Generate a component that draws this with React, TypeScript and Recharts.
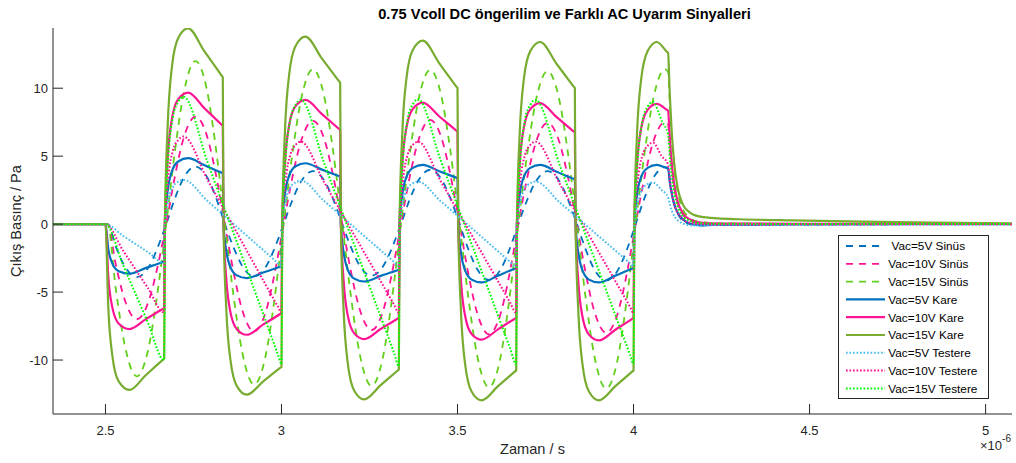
import React from 'react';
import { LineChart, Line, XAxis, YAxis } from 'recharts';

type P = [number, number];

// ---- data (time in µs ×1e-6, pressure in Pa) ----
const sinus5: P[] = [
  [2.351,0],[2.506,0],
  [2.53,-1.7],[2.555,-3.11],[2.589,-3.9],[2.62,-3.27],[2.645,-1.94],[2.66,-0.92],
  [2.6727,0],[2.6967,1.85],[2.7217,3.38],[2.7557,4.24],[2.7867,3.55],[2.8117,2.11],[2.8267,1.0],
  [2.8393,0],[2.8633,-1.68],[2.8883,-3.07],[2.9223,-3.85],[2.9533,-3.23],[2.9783,-1.92],[2.9933,-0.91],
  [3.006,0],[3.03,1.7],[3.055,3.11],[3.089,3.9],[3.12,3.27],[3.145,1.94],[3.16,0.92],
  [3.1727,0],[3.1967,-1.66],[3.2217,-3.03],[3.2557,-3.8],[3.2867,-3.18],[3.3117,-1.89],[3.3267,-0.9],
  [3.3393,0],[3.3633,1.75],[3.3883,3.19],[3.4223,4.0],[3.4533,3.35],[3.4783,1.99],[3.4933,0.95],
  [3.506,0],[3.53,-1.79],[3.555,-3.27],[3.589,-4.1],[3.62,-3.44],[3.645,-2.04],[3.66,-0.97],
  [3.6727,0],[3.6967,1.7],[3.7217,3.11],[3.7557,3.9],[3.7867,3.27],[3.8117,1.94],[3.8267,0.92],
  [3.8393,0],[3.8633,-1.81],[3.8883,-3.31],[3.9223,-4.15],[3.9533,-3.48],[3.9783,-2.07],[3.9933,-0.98],
  [4.006,0],[4.03,1.84],[4.055,3.35],[4.089,4.2],[4.098,4.12],
  [4.104,3.0],[4.11,2.1],[4.117,1.35],[4.127,0.7],[4.14,0.25],[4.16,0.0],[4.19,-0.1],[4.25,-0.05],[4.5,-0.02],[5.075,0],
];
const sinus10: P[] = [
  [2.351,0],[2.506,0],
  [2.53,-3.06],[2.555,-5.58],[2.589,-7.0],[2.62,-5.87],[2.645,-3.49],[2.66,-1.66],
  [2.6727,0],[2.6967,3.45],[2.7217,6.3],[2.7557,7.9],[2.7867,6.62],[2.8117,3.93],[2.8267,1.87],
  [2.8393,0],[2.8633,-3.45],[2.8883,-6.3],[2.9223,-7.9],[2.9533,-6.62],[2.9783,-3.93],[2.9933,-1.87],
  [3.006,0],[3.03,3.32],[3.055,6.06],[3.089,7.6],[3.12,6.37],[3.145,3.78],[3.16,1.8],
  [3.1727,0],[3.1967,-3.41],[3.2217,-6.22],[3.2557,-7.8],[3.2867,-6.54],[3.3117,-3.88],[3.3267,-1.85],
  [3.3393,0],[3.3633,3.35],[3.3883,6.11],[3.4223,7.67],[3.4533,6.43],[3.4783,3.82],[3.4933,1.82],
  [3.506,0],[3.53,-3.54],[3.555,-6.46],[3.589,-8.1],[3.62,-6.79],[3.645,-4.03],[3.66,-1.92],
  [3.6727,0],[3.6967,3.26],[3.7217,5.94],[3.7557,7.45],[3.7867,6.24],[3.8117,3.71],[3.8267,1.77],
  [3.8393,0],[3.8633,-3.5],[3.8883,-6.38],[3.9223,-8.0],[3.9533,-6.7],[3.9783,-3.98],[3.9933,-1.9],
  [4.006,0],[4.03,3.28],[4.055,5.98],[4.089,7.5],[4.098,7.35],
  [4.104,5.4],[4.11,3.8],[4.117,2.5],[4.127,1.4],[4.14,0.7],[4.16,0.25],[4.19,0.08],[4.25,0.02],[5.075,0],
];
const sinus15: P[] = [
  [2.351,0],[2.506,0],
  [2.53,-4.89],[2.555,-8.93],[2.589,-11.2],[2.62,-9.39],[2.645,-5.58],[2.66,-2.65],
  [2.6727,0],[2.6967,5.24],[2.7217,9.56],[2.7557,12.0],[2.7867,10.06],[2.8117,5.98],[2.8267,2.84],
  [2.8393,0],[2.8633,-5.16],[2.8883,-9.4],[2.9223,-11.8],[2.9533,-9.89],[2.9783,-5.88],[2.9933,-2.8],
  [3.006,0],[3.03,4.98],[3.055,9.09],[3.089,11.4],[3.12,9.55],[3.145,5.68],[3.16,2.7],
  [3.1727,0],[3.1967,-5.2],[3.2217,-9.48],[3.2557,-11.9],[3.2867,-9.97],[3.3117,-5.93],[3.3267,-2.82],
  [3.3393,0],[3.3633,4.96],[3.3883,9.05],[3.4223,11.35],[3.4533,9.51],[3.4783,5.65],[3.4933,2.69],
  [3.506,0],[3.53,-5.24],[3.555,-9.56],[3.589,-12.0],[3.62,-10.06],[3.645,-5.98],[3.66,-2.84],
  [3.6727,0],[3.6967,4.92],[3.7217,8.97],[3.7557,11.25],[3.7867,9.43],[3.8117,5.6],[3.8267,2.67],
  [3.8393,0],[3.8633,-5.29],[3.8883,-9.64],[3.9223,-12.1],[3.9533,-10.14],[3.9783,-6.03],[3.9933,-2.87],
  [4.006,0],[4.03,4.98],[4.055,9.09],[4.089,11.4],[4.098,11.2],
  [4.104,8.3],[4.11,5.8],[4.117,3.8],[4.127,2.2],[4.14,1.1],[4.16,0.45],[4.19,0.15],[4.25,0.05],[4.5,0.02],[5.075,0.01],
];
const kare5: P[] = [
  [2.351,0],[2.5,0],
  [2.508,-1.83],[2.52,-2.92],[2.538,-3.47],[2.568,-3.65],[2.615,-3.22],[2.6627,-2.79],[2.6667,-2.75],
  [2.6687,0],[2.6767,2.43],[2.6887,3.88],[2.7067,4.61],[2.7347,4.85],[2.7817,4.33],[2.8293,3.79],[2.8333,3.75],
  [2.8353,0],[2.8433,-1.99],[2.8553,-3.18],[2.8733,-3.77],[2.9013,-3.97],[2.9483,-3.56],[2.996,-3.14],[3.0,-3.1],
  [3.002,0],[3.01,2.24],[3.022,3.58],[3.04,4.26],[3.068,4.48],[3.115,4.01],[3.1627,3.54],[3.1667,3.5],
  [3.1687,0],[3.1767,-2.11],[3.1887,-3.38],[3.2067,-4.01],[3.2347,-4.22],[3.2817,-3.81],[3.3293,-3.4],[3.3333,-3.36],
  [3.3353,0],[3.3433,2.18],[3.3553,3.49],[3.3733,4.14],[3.4013,4.36],[3.4483,3.89],[3.496,3.42],[3.5,3.38],
  [3.502,0],[3.51,-2.15],[3.522,-3.43],[3.54,-4.08],[3.568,-4.29],[3.615,-3.79],[3.6627,-3.28],[3.6667,-3.24],
  [3.6687,0],[3.6767,2.18],[3.6887,3.49],[3.7067,4.14],[3.7347,4.36],[3.7817,3.86],[3.8293,3.34],[3.8333,3.3],
  [3.8353,0],[3.8433,-2.15],[3.8553,-3.43],[3.8733,-4.08],[3.9013,-4.29],[3.9483,-3.79],[3.996,-3.28],[4.0,-3.24],
  [4.002,0],[4.01,2.18],[4.022,3.49],[4.04,4.14],[4.066,4.36],[4.094,4.13],[4.098,4.1],
  [4.103,3.1],[4.108,2.3],[4.115,1.5],[4.125,0.85],[4.14,0.35],[4.16,0.05],[4.19,-0.08],[4.25,-0.05],[4.5,-0.02],[5.075,0],
];
const kare10: P[] = [
  [2.351,0],[2.5,0],
  [2.508,-3.86],[2.52,-6.18],[2.538,-7.33],[2.568,-7.72],[2.615,-6.99],[2.6627,-6.24],[2.6667,-6.18],
  [2.6687,0],[2.6767,4.84],[2.6887,7.74],[2.7067,9.2],[2.7347,9.68],[2.7817,8.51],[2.8293,7.33],[2.8333,7.23],
  [2.8353,0],[2.8433,-4.07],[2.8553,-6.51],[2.8733,-7.73],[2.9013,-8.14],[2.9483,-7.38],[2.996,-6.61],[3.0,-6.54],
  [3.002,0],[3.01,4.57],[3.022,7.31],[3.04,8.68],[3.068,9.14],[3.115,8.09],[3.1627,7.02],[3.1667,6.93],
  [3.1687,0],[3.1767,-4.23],[3.1887,-6.77],[3.2067,-8.04],[3.2347,-8.46],[3.2817,-7.72],[3.3293,-6.96],[3.3333,-6.9],
  [3.3353,0],[3.3433,4.47],[3.3553,7.15],[3.3733,8.49],[3.4013,8.94],[3.4483,7.92],[3.496,6.89],[3.5,6.8],
  [3.502,0],[3.51,-4.25],[3.522,-6.8],[3.54,-8.08],[3.568,-8.5],[3.615,-7.74],[3.6627,-6.96],[3.6667,-6.9],
  [3.6687,0],[3.6767,4.45],[3.6887,7.12],[3.7067,8.46],[3.7347,8.9],[3.7817,7.87],[3.8293,6.83],[3.8333,6.74],
  [3.8353,0],[3.8433,-4.28],[3.8553,-6.85],[3.8733,-8.13],[3.9013,-8.56],[3.9483,-7.77],[3.996,-6.97],[4.0,-6.9],
  [4.002,0],[4.01,4.43],[4.022,7.08],[4.04,8.41],[4.066,8.85],[4.094,8.42],[4.098,8.35],
  [4.103,6.3],[4.108,4.6],[4.115,3.0],[4.125,1.7],[4.14,0.8],[4.16,0.35],[4.19,0.12],[4.25,0.04],[4.5,0.02],[5.075,0.01],
];
const kare15: P[] = [
  [2.351,0],[2.5,0],
  [2.508,-6.1],[2.52,-9.76],[2.538,-11.59],[2.568,-12.2],[2.615,-11.1],[2.6627,-9.99],[2.6667,-9.9],
  [2.6687,0],[2.6767,7.2],[2.6887,11.56],[2.7067,13.7],[2.7347,14.4],[2.7817,12.69],[2.8293,10.95],[2.8333,10.8],
  [2.8353,0],[2.8433,-6.28],[2.8553,-10.04],[2.8733,-11.92],[2.9013,-12.55],[2.9483,-11.57],[2.996,-10.58],[3.0,-10.5],
  [3.002,0],[3.01,6.9],[3.022,11.04],[3.04,13.11],[3.068,13.8],[3.115,12.18],[3.1627,10.54],[3.1667,10.4],
  [3.1687,0],[3.1767,-6.45],[3.1887,-10.32],[3.2067,-12.26],[3.2347,-12.9],[3.2817,-11.85],[3.3293,-10.79],[3.3333,-10.7],
  [3.3353,0],[3.3433,6.75],[3.3553,10.8],[3.3733,12.83],[3.4013,13.5],[3.4483,11.83],[3.496,10.14],[3.5,10.0],
  [3.502,0],[3.51,-6.49],[3.522,-10.38],[3.54,-12.32],[3.568,-12.97],[3.615,-11.92],[3.6627,-10.85],[3.6667,-10.76],
  [3.6687,0],[3.6767,6.7],[3.6887,10.72],[3.7067,12.73],[3.7347,13.4],[3.7817,11.78],[3.8293,10.14],[3.8333,10.0],
  [3.8353,0],[3.8433,-6.49],[3.8553,-10.38],[3.8733,-12.32],[3.9013,-12.97],[3.9483,-11.92],[3.996,-10.85],[4.0,-10.76],
  [4.002,0],[4.01,6.7],[4.022,10.72],[4.04,12.73],[4.066,13.4],[4.094,12.7],[4.098,12.6],
  [4.103,9.5],[4.108,7.0],[4.115,4.6],[4.125,2.7],[4.14,1.45],[4.16,0.85],[4.19,0.55],[4.24,0.42],[4.3,0.36],[4.45,0.27],[4.65,0.18],[4.85,0.11],[5.075,0.06],
];
const testere5: P[] = [
  [2.351,0],[2.5,0],[2.55,-0.86],[2.62,-2.05],[2.6667,-2.85],
  [2.6697,0],[2.6787,1.73],[2.6917,2.74],[2.7067,3.13],[2.7217,3.26],[2.79,1.7],[2.87,-0.13],[2.95,-1.96],[2.99,-2.87],[3.0,-3.1],
  [3.003,0],[3.012,1.7],[3.025,2.69],[3.04,3.07],[3.055,3.2],[3.12,1.73],[3.2,-0.08],[3.28,-1.89],[3.32,-2.79],[3.3333,-3.1],
  [3.3363,0],[3.3453,1.66],[3.3583,2.63],[3.3733,3.0],[3.3883,3.13],[3.45,1.74],[3.53,-0.07],[3.61,-1.88],[3.65,-2.79],[3.6667,-3.15],
  [3.6697,0],[3.6787,1.66],[3.6917,2.63],[3.7067,3.0],[3.7217,3.13],[3.79,1.6],[3.87,-0.19],[3.95,-1.98],[3.99,-2.88],[4.0,-3.1],
  [4.003,0],[4.012,1.62],[4.025,2.57],[4.04,2.94],[4.055,3.06],[4.08,2.5],[4.098,2.0],
  [4.104,1.35],[4.11,0.9],[4.117,0.55],[4.127,0.25],[4.14,0.05],[4.16,-0.08],[4.19,-0.1],[4.25,-0.05],[4.5,-0.02],[5.075,0],
];
const testere10: P[] = [
  [2.351,0],[2.5,0],[2.55,-1.95],[2.62,-4.68],[2.6667,-6.5],
  [2.6697,0],[2.6787,3.42],[2.6917,5.42],[2.7067,6.19],[2.7217,6.45],[2.79,3.26],[2.87,-0.48],[2.95,-4.22],[2.99,-6.08],[3.0,-6.54],
  [3.003,0],[3.012,3.22],[3.025,5.1],[3.04,5.83],[3.055,6.07],[3.12,3.13],[3.2,-0.5],[3.28,-4.12],[3.32,-5.94],[3.3333,-6.54],
  [3.3363,0],[3.3453,3.22],[3.3583,5.1],[3.3733,5.83],[3.3883,6.07],[3.45,3.27],[3.53,-0.35],[3.61,-3.98],[3.65,-5.79],[3.6667,-6.54],
  [3.6697,0],[3.6787,3.22],[3.6917,5.1],[3.7067,5.83],[3.7217,6.07],[3.79,2.98],[3.87,-0.65],[3.95,-4.27],[3.99,-6.08],[4.0,-6.54],
  [4.003,0],[4.012,3.18],[4.025,5.04],[4.04,5.76],[4.055,6.0],[4.08,5.0],[4.098,4.4],
  [4.104,3.0],[4.11,2.1],[4.117,1.35],[4.127,0.75],[4.14,0.35],[4.16,0.1],[4.19,0.0],[4.25,-0.03],[4.5,-0.01],[5.075,0],
];
const testere15: P[] = [
  [2.351,0],[2.5,0],[2.55,-3.0],[2.62,-7.2],[2.6667,-10.0],
  [2.6697,0],[2.6787,4.97],[2.6917,7.88],[2.7067,9.0],[2.7217,9.38],[2.79,4.55],[2.87,-1.1],[2.95,-6.75],[2.99,-9.6],[3.0,-10.3],
  [3.003,0],[3.012,4.85],[3.025,7.69],[3.04,8.78],[3.055,9.15],[3.12,4.57],[3.2,-1.06],[3.28,-6.69],[3.32,-9.5],[3.3333,-10.45],
  [3.3363,0],[3.3453,4.87],[3.3583,7.72],[3.3733,8.82],[3.3883,9.19],[3.45,4.86],[3.53,-0.76],[3.61,-6.37],[3.65,-9.18],[3.6667,-10.35],
  [3.6697,0],[3.6787,4.84],[3.6917,7.68],[3.7067,8.77],[3.7217,9.14],[3.79,4.37],[3.87,-1.22],[3.95,-6.81],[3.99,-9.6],[4.0,-10.3],
  [4.003,0],[4.012,4.77],[4.025,7.56],[4.04,8.64],[4.055,9.0],[4.08,7.6],[4.098,6.6],
  [4.104,4.6],[4.11,3.2],[4.117,2.1],[4.127,1.2],[4.14,0.6],[4.16,0.25],[4.19,0.08],[4.25,0.03],[4.5,0.01],[5.075,0],
];

const xTicks = [2.5, 3, 3.5, 4, 4.5, 5];
const yTicks = [-10, -5, 0, 5, 10];
const xDomain: [number, number] = [2.351, 5.075];
const yDomain: [number, number] = [-13.97, 14.43];

const TITLE = '0.75 Vcoll DC öngerilim ve Farklı AC Uyarım Sinyalleri';
const X_LABEL = 'Zaman / s';
const Y_LABEL = 'Çıkış Basınç / Pa';

// ---- styles ----
const W = 1016;
const H = 463;
const FONT = '"Liberation Sans", Arial, Helvetica, sans-serif';
const INK = '#262626';
const BLUE = '#0072BD';
const PINK = '#FF1493';
const OLIVE = '#77AC30';
const LIME = '#62CF1A';
const SKY = '#4DBEEE';
const GREEN = '#00FF00';
const DASH = '7 6';
const DOT = '1.7 1.8';

const series = [
  { name: 'Vac=5V Sinüs', data: sinus5, color: BLUE, dash: DASH, w: 1.8 },
  { name: 'Vac=10V Sinüs', data: sinus10, color: PINK, dash: DASH, w: 1.8 },
  { name: 'Vac=15V Sinüs', data: sinus15, color: LIME, dash: DASH, w: 1.8 },
  { name: 'Vac=5V Kare', data: kare5, color: BLUE, dash: undefined, w: 2.2 },
  { name: 'Vac=10V Kare', data: kare10, color: PINK, dash: undefined, w: 2.2 },
  { name: 'Vac=15V Kare', data: kare15, color: OLIVE, dash: undefined, w: 2.2 },
  { name: 'Vac=5V Testere', data: testere5, color: SKY, dash: DOT, w: 2 },
  { name: 'Vac=10V Testere', data: testere10, color: PINK, dash: DOT, w: 2 },
  { name: 'Vac=15V Testere', data: testere15, color: GREEN, dash: DOT, w: 2 },
];

const toRows = (pts: P[]) => pts.map(([t, v]) => ({ t, v }));

const fmt = (v: number) => String(v);

const BottomTick = (props: any) => {
  const { x, y, payload } = props;
  return (
    <g>
      <line x1={x} x2={x} y1={y} y2={y - 10} stroke={INK} strokeWidth={1} />
      <text x={x} y={y + 20.5} textAnchor="middle" fontSize={13} fontFamily={FONT} fill={INK}>
        {fmt(payload.value)}
      </text>
    </g>
  );
};
const TopTick = (props: any) => {
  const { x, y } = props;
  return <line x1={x} x2={x} y1={y} y2={y + 10} stroke={INK} strokeWidth={1} />;
};
const LeftTick = (props: any) => {
  const { x, y, payload } = props;
  return (
    <g>
      <line x1={x} x2={x + 10} y1={y} y2={y} stroke={INK} strokeWidth={1} />
      <text x={x - 5} y={y + 4.6} textAnchor="end" fontSize={13} fontFamily={FONT} fill={INK}>
        {fmt(payload.value)}
      </text>
    </g>
  );
};
const RightTick = (props: any) => {
  const { x, y } = props;
  return <line x1={x} x2={x - 10} y1={y} y2={y} stroke={INK} strokeWidth={1} />;
};

const LEG = { x: 838, y: 235, w: 150, h: 163, row0: 246, step: 17.8 };

export default function App() {
  return (
    <div style={{ position: 'absolute', left: 0, top: 0, width: W, height: H, background: '#fff' }}>
      <LineChart width={W} height={H} margin={{ top: 28, right: 4, bottom: 0, left: 0 }}>
        <XAxis
          xAxisId={0}
          dataKey="t"
          type="number"
          domain={xDomain}
          allowDataOverflow
          ticks={xTicks}
          interval={0}
          height={49}
          tickSize={0}
          tickMargin={0}
          tickLine={false}
          axisLine={{ stroke: INK, strokeWidth: 1 }}
          tick={(p: any) => <BottomTick {...p} />}
        />
        <XAxis
          xAxisId="top"
          orientation="top"
          dataKey="t"
          type="number"
          domain={xDomain}
          allowDataOverflow
          ticks={xTicks}
          interval={0}
          height={0}
          tickSize={0}
          tickMargin={0}
          tickLine={false}
          axisLine={{ stroke: '#9e9e9e', strokeWidth: 1 }}
          tick={(p: any) => <TopTick {...p} />}
        />
        <YAxis
          yAxisId={0}
          type="number"
          domain={yDomain}
          allowDataOverflow
          ticks={yTicks}
          interval={0}
          width={53}
          tickSize={0}
          tickMargin={0}
          tickLine={false}
          axisLine={{ stroke: INK, strokeWidth: 1 }}
          tick={(p: any) => <LeftTick {...p} />}
        />
        <YAxis
          yAxisId="right"
          orientation="right"
          type="number"
          domain={yDomain}
          allowDataOverflow
          ticks={yTicks}
          interval={0}
          width={0}
          tickSize={0}
          tickMargin={0}
          tickLine={false}
          axisLine={{ stroke: INK, strokeWidth: 1 }}
          tick={(p: any) => <RightTick {...p} />}
        />
        {series.map((s) => (
          <Line
            key={s.name}
            name={s.name}
            data={toRows(s.data)}
            dataKey="v"
            type="monotone"
            stroke={s.color}
            strokeWidth={s.w}
            strokeDasharray={s.dash}
            dot={false}
            activeDot={false}
            isAnimationActive={false}
          />
        ))}
      </LineChart>
      <svg
        width={W}
        height={H}
        style={{ position: 'absolute', left: 0, top: 0, pointerEvents: 'none' }}
      >
        <text x={564.5} y={19} textAnchor="middle" fontSize={14.6} fontWeight="bold" fontFamily={FONT} fill="#000">
          {TITLE}
        </text>
        <text
          x={21}
          y={221}
          transform="rotate(-90, 21, 221)"
          textAnchor="middle"
          fontSize={14.6}
          fontFamily={FONT}
          fill={INK}
        >
          {Y_LABEL}
        </text>
        <text x={532.5} y={454} textAnchor="middle" fontSize={14.6} fontFamily={FONT} fill={INK}>
          {X_LABEL}
        </text>
        <text x={980} y={450} fontSize={13} fontFamily={FONT} fill={INK}>
          ×10
          <tspan dy={-8} fontSize={10}>-6</tspan>
        </text>
        <rect x={LEG.x + 0.5} y={LEG.y + 0.5} width={LEG.w} height={LEG.h} fill="#fff" stroke={INK} strokeWidth={1} />
        {series.map((s, i) => {
          const cy = LEG.row0 + i * LEG.step;
          return (
            <g key={s.name}>
              <line x1={846} x2={885} y1={cy} y2={cy} stroke={s.color} strokeWidth={s.w} strokeDasharray={s.dash} />
              <text x={i === 0 ? 891.5 : 888.3} y={cy + 4.3} fontSize={11.8} fontFamily={FONT} fill="#000">
                {s.name}
              </text>
            </g>
          );
        })}
      </svg>
    </div>
  );
}
